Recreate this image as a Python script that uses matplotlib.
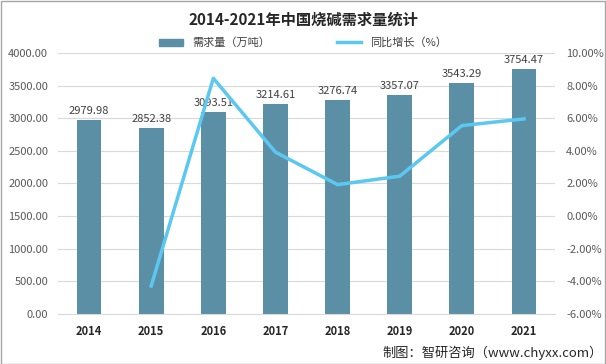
import numpy as np
import matplotlib
matplotlib.use("Agg")
import matplotlib.pyplot as plt
from matplotlib.lines import Line2D
from matplotlib.patches import Patch

plt.rcParams['font.family'] = ['Noto Sans CJK SC', 'DejaVu Sans']

years = ["2014", "2015", "2016", "2017", "2018", "2019", "2020", "2021"]
demand = [2979.98, 2852.38, 3093.51, 3214.61, 3276.74, 3357.07, 3543.29, 3754.47]
growth = [np.nan, -4.28, 8.45, 3.92, 1.93, 2.45, 5.55, 5.96]

bar_color = "#5B8FA6"
line_color = "#5CC8F2"
tick_color = "#595959"

fig = plt.figure(figsize=(6.06, 3.64), dpi=100)
ax = fig.add_axes([0.0957, 0.1374, 0.8203, 0.7170])
ax2 = ax.twinx()

x = np.arange(len(years))
ax.bar(x, demand, width=0.4, color=bar_color, zorder=2)
for xi, v in zip(x, demand):
    ax.text(xi, v + 60, f"{v:.2f}", ha="center", va="bottom", fontsize=8, color="#404040")

ax.set_ylim(0, 4000)
ax.set_yticks(np.arange(0, 4001, 500))
ax.set_yticklabels([f"{v:.2f}" for v in np.arange(0, 4001, 500)])
ax.set_xlim(-0.5, len(years) - 0.5)
ax.set_xticks(x)
ax.set_xticklabels(years, fontweight="bold", fontsize=8, color="#262626")
ax.grid(axis="y", color="#D9D9D9", linewidth=0.8, zorder=0)
ax.tick_params(axis="y", labelsize=8, labelcolor=tick_color, length=0, pad=7)
ax.tick_params(axis="x", length=0, pad=8)
for s in ["top", "right", "left"]:
    ax.spines[s].set_visible(False)
ax.spines["bottom"].set_color("#D9D9D9")

ax2.plot(x, growth, color=line_color, linewidth=2.5, zorder=3)
ax2.set_ylim(-6, 10)
ax2.set_yticks(np.arange(-6, 10.1, 2))
ax2.set_yticklabels([f"{v:.2f}%" for v in np.arange(-6, 10.1, 2)])
ax2.tick_params(axis="y", labelsize=8, labelcolor=tick_color, length=0, pad=8)
for s in ["top", "right", "left", "bottom"]:
    ax2.spines[s].set_visible(False)

fig.text(0.5, 0.945, "2014-2021年中国烧碱需求量统计", ha="center", va="center",
         fontsize=11, fontweight="bold", color="#262626")

handles = [Patch(color=bar_color), Line2D([0], [0], color=line_color, linewidth=2.5)]
fig.legend(handles, ["需求量（万吨）", "同比增长（%）"], loc="center",
           bbox_to_anchor=(0.5, 0.882), ncol=2, frameon=False, fontsize=8,
           handlelength=2.2, columnspacing=6, labelcolor="#404040")

fig.text(0.995, 0.032, "制图：智研咨询（www.chyxx.com）", ha="right", va="center",
         fontsize=9.5, color="#262626")

fig.patches.append(plt.Rectangle((0.001, 0.001), 0.997, 0.996, transform=fig.transFigure,
                                 fill=False, edgecolor="#A6A6A6", linewidth=1))

fig.savefig("out.png", dpi=100)
